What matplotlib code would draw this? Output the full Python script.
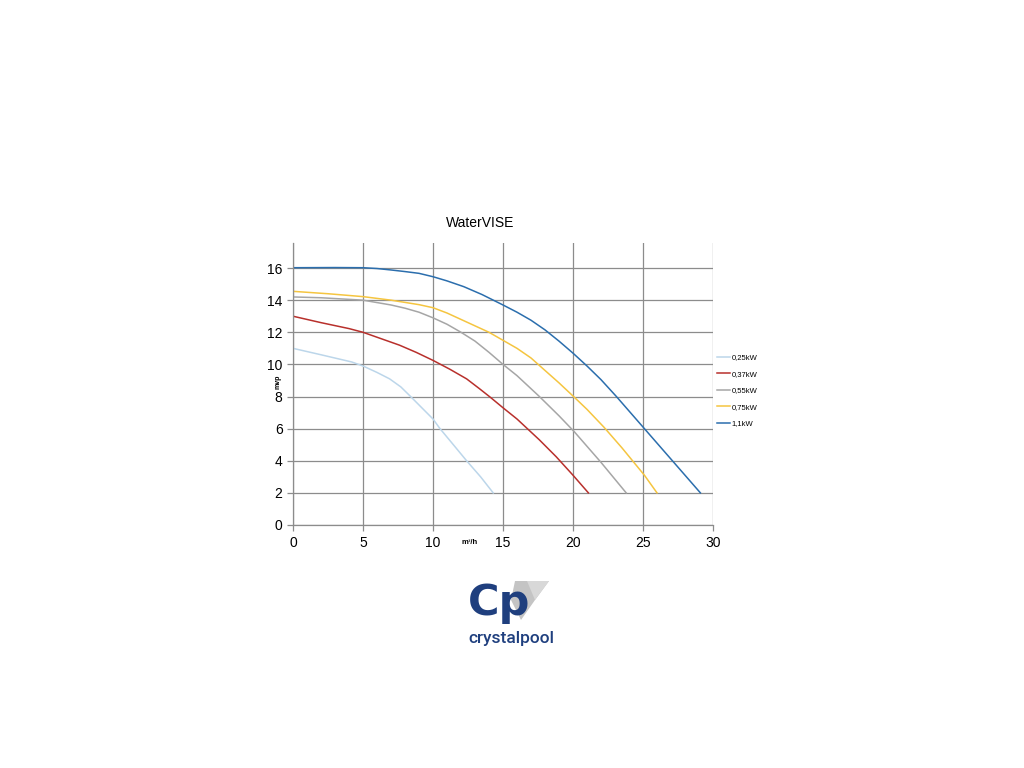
import numpy as np
import matplotlib
matplotlib.use('Agg')
import matplotlib.pyplot as plt
from matplotlib.patches import Polygon

plt.rcParams['font.family'] = ['Liberation Sans', 'DejaVu Sans']

# pump curves: flow (m3/h) vs head (mvp)
q_025 = [0, 2, 4.2, 5, 6, 6.9, 7.7, 8.4, 9.2, 10, 10.5, 11.5, 12.4, 13.4, 14.3]
h_025 = [11.0, 10.6, 10.15, 9.9, 9.5, 9.1, 8.6, 8.0, 7.3, 6.6, 6.0, 4.95, 4.0, 3.0, 2.0]

q_037 = [0, 2, 4, 5, 6.3, 7.6, 8.8, 10, 11.2, 12.4, 13.3, 14.1, 15, 16, 17.6, 18.8, 20, 21.1]
h_037 = [13.0, 12.6, 12.23, 12.0, 11.6, 11.2, 10.75, 10.25, 9.7, 9.1, 8.5, 7.95, 7.3, 6.6, 5.3, 4.25, 3.1, 2.0]

q_055 = [0, 2, 4, 5, 6, 7, 8, 9, 10, 11, 12, 13, 14, 15, 16, 17.6, 19, 20.1, 22, 23.8]
h_055 = [14.2, 14.15, 14.05, 14.0, 13.85, 13.7, 13.5, 13.25, 12.9, 12.5, 12.0, 11.45, 10.75, 10.0, 9.3, 8.0, 6.8, 5.8, 3.9, 2.0]

q_075 = [0, 2.5, 5, 7, 9, 10, 11, 12.6, 14, 15, 16, 17, 17.9, 19, 20.1, 21, 22.2, 23.5, 25.1, 26]
h_075 = [14.55, 14.4, 14.22, 14.0, 13.72, 13.53, 13.2, 12.56, 12.0, 11.5, 11.0, 10.4, 9.7, 8.85, 7.95, 7.2, 6.1, 4.8, 3.1, 2.0]

q_110 = [0, 3, 5, 6, 7, 8, 9, 10, 11, 12.2, 13.5, 15, 16, 17, 18, 19, 20, 21, 22, 23.1, 24, 25.1, 26, 27.2, 28, 29.1]
h_110 = [16.02, 16.03, 16.02, 15.97, 15.88, 15.78, 15.67, 15.46, 15.2, 14.84, 14.35, 13.7, 13.25, 12.75, 12.15,
         11.45, 10.7, 9.9, 9.05, 8.0, 7.1, 6.0, 5.1, 3.9, 3.1, 2.0]

labels = ['0,25kW', '0,37kW', '0,55kW', '0,75kW', '1,1kW']
colors = ['#bcd6ea', '#b8302c', '#a6a6a6', '#f5c540', '#2b6ead']

x_ticks = [0, 5, 10, 15, 20, 25, 30]
y_ticks = [0, 2, 4, 6, 8, 10, 12, 14, 16]

fig = plt.figure(figsize=(10.24, 7.68), dpi=100)
ax = fig.add_axes([293/1024, 1-525/768, 420/1024, 282/768])

series = [(q_025, h_025), (q_037, h_037), (q_055, h_055), (q_075, h_075), (q_110, h_110)]
for (q, h), lab, c in zip(series, labels, colors):
    ax.plot(q, h, color=c, lw=1.1, label=lab, solid_joinstyle='round')

ax.set_xlim(0, 30)
ax.set_ylim(0, 282/16.06)
ax.set_xticks(x_ticks)
ax.set_yticks(y_ticks)
ax.grid(True, color='#8c8c8c', lw=0.9)
ax.set_axisbelow(True)
for s in ['top', 'right']:
    ax.spines[s].set_visible(False)
for s in ['left', 'bottom']:
    ax.spines[s].set_color('#8c8c8c')
    ax.spines[s].set_linewidth(0.9)
ax.tick_params(axis='both', direction='out', length=4, color='#8c8c8c',
               labelsize=10, width=0.9)
ax.tick_params(axis='x', pad=4)

ax.text(13.4, 18.8, 'WaterVISE', fontsize=10, ha='center', va='center')
ax.text(-1.1, 8.9, 'mvp', rotation=90, fontsize=5, fontweight='bold',
        ha='center', va='center')
ax.text(12.6, -1.1, 'm³/h', fontsize=5.5, fontweight='bold',
        ha='center', va='center')

fig.legend(loc='upper left', bbox_to_anchor=(714/1024, 1-351/768), frameon=False,
           fontsize=5.5, handlelength=1.7, handletextpad=0.2, labelspacing=1.2,
           borderaxespad=0)

# crystalpool logo
diamond = Polygon([(515/1024, 1-581/768), (549/1024, 1-581/768), (535/1024, 1-600/768),
                   (521/1024, 1-620/768), (511/1024, 1-600/768)], closed=True,
                  transform=fig.transFigure, facecolor='#c4c4c4', edgecolor='none')
facet = Polygon([(527/1024, 1-581/768), (549/1024, 1-581/768), (535/1024, 1-600/768)],
                closed=True, transform=fig.transFigure, facecolor='#d8d8d8', edgecolor='none')
fig.patches.extend([diamond, facet])
fig.text(499/1024, 1-603/768, 'Cp', fontsize=31, fontweight='bold', color='#1f3f7e',
         ha='center', va='center', family='DejaVu Sans')
fig.text(511/1024, 1-638/768, 'crystalpool', fontsize=12.5, color='#1f3f7e',
         fontweight='medium', ha='center', va='center', family=['Roboto', 'DejaVu Sans'])

fig.savefig('out.png', dpi=100)
